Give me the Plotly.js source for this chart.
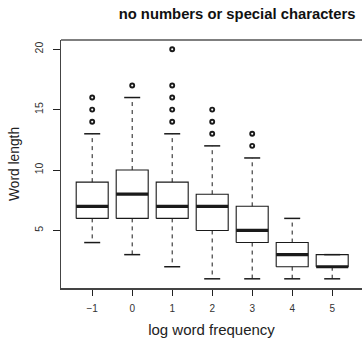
<!DOCTYPE html>
<html>
<head>
<meta charset="utf-8">
<script src="https://cdn.plot.ly/plotly-3.0.1.min.js"></script>
<style>html,body{margin:0;padding:0;background:#fff;}#chart{width:362px;height:340px;}</style>
</head>
<body>
<div id="chart"></div>
<script>
// ---- data ----
const categories = [-1, 0, 1, 2, 3, 4, 5];
const tickLabels = ["\u22121", "0", "1", "2", "3", "4", "5"];
const lowerWhisker = [4, 3, 2, 1, 1, 1, 1];
const q1 = [6, 6, 6, 5, 4, 2, 2];
const medians = [7, 8, 7, 7, 5, 3, 2];
const q3 = [9, 10, 9, 8, 7, 4, 3];
const upperWhisker = [13, 16, 13, 12, 11, 6, 3];
const outliers = [[14, 15, 16], [17], [14, 15, 16, 17, 20], [13, 14, 15], [12, 13], [], []];
const yTicks = [5, 10, 15, 20];

// ---- style ----
const HALF = 0.4;   // half box width
const CAP = 0.2;    // half staple width
const ink = "#1a1a1a";

const boxX = [], boxY = [], medX = [], medY = [], whX = [], whY = [], capX = [], capY = [], outX = [], outY = [];
categories.forEach((c, i) => {
  boxX.push(c - HALF, c + HALF, c + HALF, c - HALF, c - HALF, null);
  boxY.push(q1[i], q1[i], q3[i], q3[i], q1[i], null);
  medX.push(c - HALF, c + HALF, null);
  medY.push(medians[i], medians[i], null);
  whX.push(c, c, null, c, c, null);
  whY.push(q3[i], upperWhisker[i], null, q1[i], lowerWhisker[i], null);
  capX.push(c - CAP, c + CAP, null, c - CAP, c + CAP, null);
  capY.push(upperWhisker[i], upperWhisker[i], null, lowerWhisker[i], lowerWhisker[i], null);
  outliers[i].forEach(v => { outX.push(c); outY.push(v); });
});

const traces = [
  {x: whX, y: whY, mode: "lines", line: {color: ink, width: 1, dash: "4px,4px"}, hoverinfo: "skip"},
  {x: capX, y: capY, mode: "lines", line: {color: ink, width: 1.5}, hoverinfo: "skip"},
  {x: boxX, y: boxY, mode: "lines", line: {color: ink, width: 1.1}, hoverinfo: "skip"},
  {x: medX, y: medY, mode: "lines", line: {color: ink, width: 3.2}, hoverinfo: "skip"},
  {x: outX, y: outY, mode: "markers", marker: {symbol: "circle-open", size: 4, color: ink, line: {width: 1.9, color: ink}}, hoverinfo: "skip"}
];

const layout = {
  width: 362, height: 340,
  margin: {l: 61, r: 0, t: 40, b: 52},
  paper_bgcolor: "#fff", plot_bgcolor: "#fff",
  showlegend: false,
  font: {family: "Liberation Sans, Arial, sans-serif", color: "#222"},
  title: {text: "<b>no numbers or special characters</b>", font: {size: 14.8, color: "#111"},
          xref: "container", x: 0.655, xanchor: "center", yref: "container", y: 0.96, yanchor: "middle"},
  xaxis: {
    range: [-1.78, 5.745], tickvals: categories, ticktext: tickLabels,
    showgrid: false, zeroline: false, showline: true, linecolor: "#444", linewidth: 1.5,
    ticks: "outside", ticklen: 6, tickwidth: 1, tickcolor: "#222",
    tickfont: {size: 10, color: "#333"}, ticklabelstandoff: 4,
    title: {text: "log word frequency", font: {size: 15, color: "#222"}, standoff: 12}
  },
  yaxis: {
    range: [0.24, 20.76], tickvals: yTicks, ticktext: yTicks.map(String),
    showgrid: false, zeroline: false, showline: true, linecolor: "#444", linewidth: 1.5,
    ticks: "outside", ticklen: 7, tickwidth: 1, tickcolor: "#222",
    tickangle: -90, tickfont: {size: 10.5, color: "#333"}, ticklabelstandoff: 5,
    title: {text: "Word length", font: {size: 13.8, color: "#222"}, standoff: 10}
  },
  shapes: [
    {type: "line", xref: "paper", yref: "paper", x0: 0, x1: 1, y0: 1, y1: 1, line: {color: "#555", width: 1.5}}
  ]
};

Plotly.newPlot("chart", traces, layout, {staticPlot: true, displayModeBar: false});
</script>
</body>
</html>
